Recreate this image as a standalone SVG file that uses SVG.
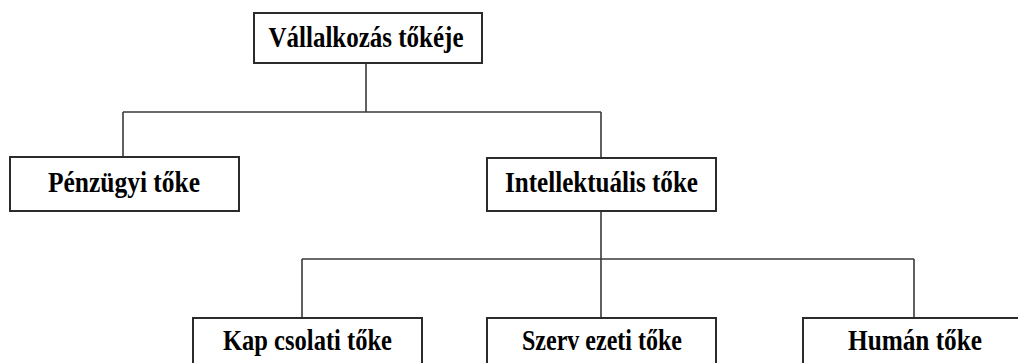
<svg xmlns="http://www.w3.org/2000/svg" width="1018" height="363" viewBox="0 0 1018 363">
  <style>
    .box { fill: #ffffff; stroke: #2b2b2b; stroke-width: 2; }
    .wire { fill: none; stroke: #3a3a3a; stroke-width: 1.6; }
    .label { font-family: "Liberation Serif", "Times New Roman", serif; font-weight: bold; font-size: 29px; fill: #000000; text-anchor: middle; }
  </style>
  <rect width="1018" height="363" fill="#ffffff"/>

  <g id="connectors">
    <path class="wire" d="M366 63 V112 M123 112 H601 M123 112 V157 M601 112 V158"/>
    <path class="wire" d="M601 211 V318 M302 259 H914 M302 259 V318 M914 259 V318"/>
  </g>

  <g id="node-vallalkozas">
    <rect class="box" x="254" y="13" width="228" height="50"/>
    <text class="label" x="366" y="47" textLength="195" lengthAdjust="spacingAndGlyphs">Vállalkozás tőkéje</text>
  </g>

  <g id="node-penzugyi">
    <rect class="box" x="10" y="157" width="229" height="54"/>
    <text class="label" x="124" y="192" textLength="152" lengthAdjust="spacingAndGlyphs">Pénzügyi tőke</text>
  </g>

  <g id="node-intellektualis">
    <rect class="box" x="487" y="158" width="229" height="53"/>
    <text class="label" x="601.5" y="192" textLength="193" lengthAdjust="spacingAndGlyphs">Intellektuális tőke</text>
  </g>

  <g id="node-kapcsolati">
    <rect class="box" x="193" y="318" width="229" height="70"/>
    <text class="label" x="307.5" y="350" textLength="169" lengthAdjust="spacingAndGlyphs">Kap csolati tőke</text>
  </g>

  <g id="node-szervezeti">
    <rect class="box" x="487" y="318" width="229" height="70"/>
    <text class="label" x="602" y="350" textLength="160" lengthAdjust="spacingAndGlyphs">Szerv ezeti tőke</text>
  </g>

  <g id="node-human">
    <rect class="box" x="803" y="318" width="229" height="70"/>
    <text class="label" x="915" y="350" textLength="134" lengthAdjust="spacingAndGlyphs">Humán tőke</text>
  </g>
</svg>
